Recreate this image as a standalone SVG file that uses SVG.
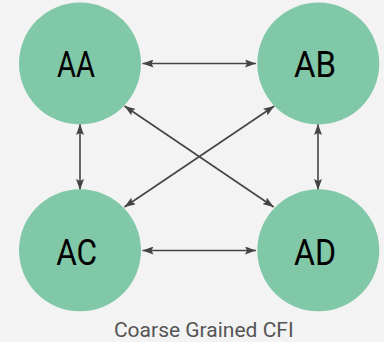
<svg xmlns="http://www.w3.org/2000/svg" width="384" height="342" viewBox="0 0 384 342">
  <style>
    .node circle { fill: #80c8a7; }
    .node text { font-family: Roboto, "Liberation Sans", sans-serif; font-size: 36px; fill: #000; text-anchor: middle; }
    .edge { stroke: #444; stroke-width: 1.6; fill: none; marker-start: url(#head); marker-end: url(#head); }
    .caption { font-family: Roboto, "Liberation Sans", sans-serif; font-size: 21px; fill: #555; text-anchor: middle; }
  </style>
  <defs>
    <marker id="head" viewBox="0 0 11 8" refX="11" refY="4" markerWidth="11" markerHeight="8" markerUnits="userSpaceOnUse" orient="auto-start-reverse">
      <path d="M0,0 L11,4 L0,8 L2,4 z" fill="#444"/>
    </marker>
  </defs>
  <rect width="384" height="342" fill="#f3f3f3"/>

  <g id="connectors">
    <line class="edge" x1="142.5" y1="63.5" x2="256" y2="63.5"/>
    <line class="edge" x1="142.5" y1="250.5" x2="256" y2="250.5"/>
    <line class="edge" x1="80" y1="124" x2="80" y2="190"/>
    <line class="edge" x1="318" y1="124" x2="318" y2="190"/>
    <line class="edge" x1="124.5" y1="106" x2="273.7" y2="207"/>
    <line class="edge" x1="274.3" y1="106" x2="124.5" y2="207"/>
  </g>

  <g id="AA" class="node">
    <circle cx="80" cy="63.5" r="61"/>
    <text x="76" y="77.3" textLength="38" lengthAdjust="spacingAndGlyphs">AA</text>
  </g>
  <g id="AB" class="node">
    <circle cx="318.3" cy="63.5" r="61"/>
    <text x="315" y="76.8" textLength="42" lengthAdjust="spacingAndGlyphs">AB</text>
  </g>
  <g id="AC" class="node">
    <circle cx="80" cy="250.3" r="61"/>
    <text x="76.7" y="265" textLength="41" lengthAdjust="spacingAndGlyphs">AC</text>
  </g>
  <g id="AD" class="node">
    <circle cx="318.3" cy="250.3" r="61"/>
    <text x="315" y="265" textLength="42" lengthAdjust="spacingAndGlyphs">AD</text>
  </g>

  <text class="caption" x="203.8" y="337.3">Coarse Grained CFI</text>
</svg>
